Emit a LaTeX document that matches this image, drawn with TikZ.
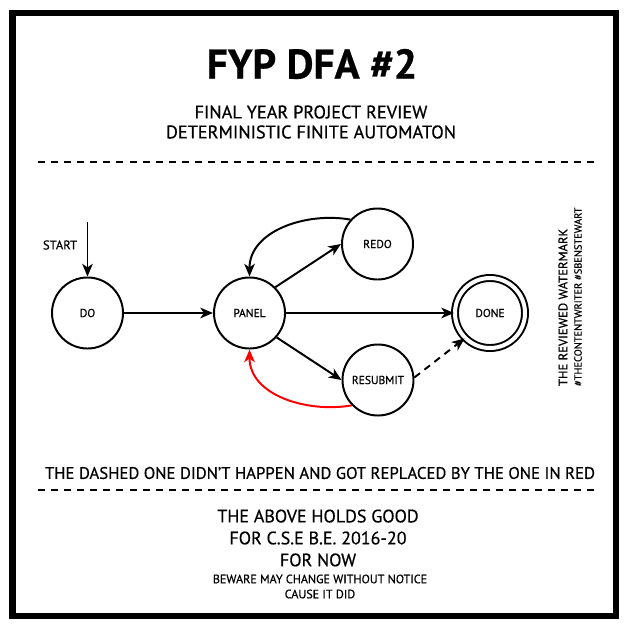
\documentclass[tikz,border=0pt]{standalone}
\usepackage{fontspec}
\setmainfont{PT Sans}[FakeBold=0.6]
\usepackage{xcolor}
\definecolor{redoline}{HTML}{FF0000}
\usetikzlibrary{arrows.meta,automata,positioning}

\begin{document}
\begin{tikzpicture}[x=0.025cm,y=-0.025cm,>={Stealth[length=9pt,width=7.5pt,inset=2.5pt]},line width=1.4pt,
        every state/.style={draw=black,fill=white,minimum size=1.775cm,inner sep=0pt,font=\fontsize{8.2}{9}\selectfont},
        accepting/.style={double,double distance=0.1cm,minimum size=1.75cm}]
            \tikzstyle{trans}=[->,color=black]
            \tikzstyle{note}=[align=center,inner sep=0pt]

            \useasboundingbox (0,0) rectangle (625,625);
            \draw[line width=0.15cm] (12.5,12.5) rectangle (615.5,615.5);

            % heading
            \node[note,font=\fontsize{29.5}{32}\bfseries\selectfont] (title) at (312,64) {FYP DFA \#2};
            \node[note,font=\fontsize{13}{14.2}\selectfont] (sub) at (311,122) {FINAL YEAR PROJECT REVIEW\\DETERMINISTIC FINITE AUTOMATON};
            \draw[dash pattern=on 5pt off 4.3pt] (38,162) -- (598,162);

            % states
            \node[state] (DO)       at (87.5,313) {DO};
            \node[state] (PANEL)    [right=2.225cm of DO] {PANEL};
            \node[state] (REDO)     at (377.5,244) {REDO};
            \node[state] (RESUBMIT) at (378,380) {RESUBMIT};
            \node[state,accepting] (DONE) at (490,313) {DONE};

            \coordinate (s) at (87.5,222);
            \node[note,font=\fontsize{9}{10}\selectfont] (start) at (60,245) {START};

            \path   (s) edge [trans] (DO)
                    (DO) edge [trans] (PANEL)
                    (PANEL) edge [trans] (DONE)
                    (PANEL.45) edge [trans] (REDO.west)
                    (PANEL.-42) edge [trans] (RESUBMIT.west)
                    (REDO.138) edge [trans, out=170, in=90] (PANEL.north)
                    (RESUBMIT.224) edge [trans, color=redoline, out=190, in=-90] (PANEL.south)
                    (RESUBMIT.4) edge [trans, dash pattern=on 5pt off 4pt] (DONE.225);

            % watermark
            \node[note,rotate=90,anchor=west,font=\fontsize{9}{10}\selectfont] (wm) at (563,387) {THE REVIEWED WATERMARK};
            \node[note,rotate=90,anchor=west,font=\fontsize{7.4}{8}\selectfont] (tags) at (578,387) {\#THECONTENTWRITER \#SBENSTEWART};

            % footer
            \node[note,font=\fontsize{11.9}{13}\selectfont] (dash) at (320,473) {THE DASHED ONE DIDN'T HAPPEN AND GOT REPLACED BY THE ONE IN RED};
            \draw[dash pattern=on 5pt off 4.3pt] (38,490) -- (598,490);
            \node[note,font=\fontsize{12.8}{15.6}\selectfont] (holds) at (318,538) {THE ABOVE HOLDS GOOD\\FOR C.S.E B.E. 2016-20\\FOR NOW};
            \node[note,font=\fontsize{8.6}{10.7}\selectfont] (beware) at (320,586.5) {BEWARE MAY CHANGE WITHOUT NOTICE\\CAUSE IT DID};
        \end{tikzpicture}
\end{document}
